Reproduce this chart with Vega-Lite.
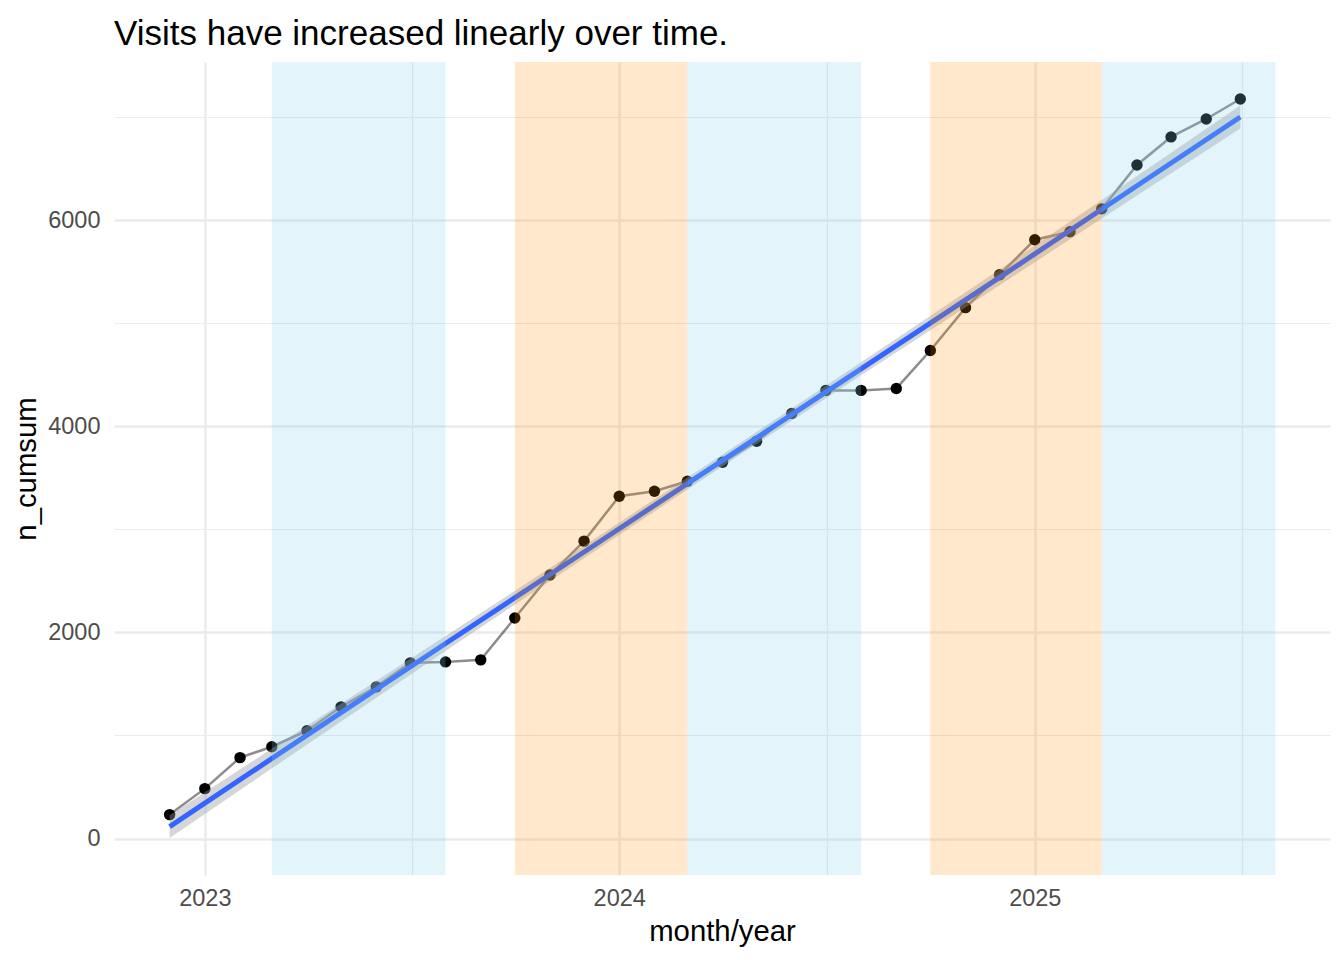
{
  "$schema": "https://vega.github.io/schema/vega-lite/v6.json",
  "width": 1216,
  "height": 813,
  "autosize": {"type": "none"},
  "padding": {"left": 114, "top": 62, "right": 14, "bottom": 85},
  "background": "white",
  "title": {
    "text": "Visits have increased linearly over time.",
    "anchor": "start",
    "frame": "group",
    "font": "Liberation Sans",
    "fontSize": 35,
    "fontWeight": "normal",
    "color": "#000000",
    "baseline": "alphabetic",
    "offset": 15,
    "dy": 33
  },
  "config": {
    "view": {"stroke": null},
    "font": "Liberation Sans",
    "axis": {
      "domain": false,
      "ticks": false,
      "tickSize": 0,
      "labelFont": "Liberation Sans",
      "labelFontSize": 23.5,
      "labelColor": "#4D4D4D",
      "titleFont": "Liberation Sans",
      "titleFontSize": 29.3,
      "titleFontWeight": "normal",
      "titleColor": "#000000",
      "gridColor": "#EBEBEB"
    }
  },
  "datasets": {
    "visits": [
      {"date": "2022-12-01", "n_cumsum": 232},
      {"date": "2023-01-01", "n_cumsum": 484},
      {"date": "2023-02-01", "n_cumsum": 785},
      {"date": "2023-03-01", "n_cumsum": 891},
      {"date": "2023-04-01", "n_cumsum": 1046},
      {"date": "2023-05-01", "n_cumsum": 1278},
      {"date": "2023-06-01", "n_cumsum": 1472},
      {"date": "2023-07-01", "n_cumsum": 1705},
      {"date": "2023-08-01", "n_cumsum": 1714},
      {"date": "2023-09-01", "n_cumsum": 1734},
      {"date": "2023-10-01", "n_cumsum": 2140},
      {"date": "2023-11-01", "n_cumsum": 2557},
      {"date": "2023-12-01", "n_cumsum": 2886},
      {"date": "2024-01-01", "n_cumsum": 3322},
      {"date": "2024-02-01", "n_cumsum": 3370},
      {"date": "2024-03-01", "n_cumsum": 3467},
      {"date": "2024-04-01", "n_cumsum": 3651},
      {"date": "2024-05-01", "n_cumsum": 3855},
      {"date": "2024-06-01", "n_cumsum": 4126},
      {"date": "2024-07-01", "n_cumsum": 4349},
      {"date": "2024-08-01", "n_cumsum": 4349},
      {"date": "2024-09-01", "n_cumsum": 4368},
      {"date": "2024-10-01", "n_cumsum": 4736},
      {"date": "2024-11-01", "n_cumsum": 5152},
      {"date": "2024-12-01", "n_cumsum": 5472},
      {"date": "2025-01-01", "n_cumsum": 5811},
      {"date": "2025-02-01", "n_cumsum": 5888},
      {"date": "2025-03-01", "n_cumsum": 6111},
      {"date": "2025-04-01", "n_cumsum": 6537},
      {"date": "2025-05-01", "n_cumsum": 6809},
      {"date": "2025-06-01", "n_cumsum": 6983},
      {"date": "2025-07-01", "n_cumsum": 7177}
    ],
    "fit": [
      {"date": "2022-12-01", "fit": 116, "lo": 5, "hi": 227},
      {"date": "2023-04-01", "fit": 1004, "lo": 913, "hi": 1095},
      {"date": "2023-08-01", "fit": 1893, "lo": 1820, "hi": 1966},
      {"date": "2023-12-01", "fit": 2781, "lo": 2720, "hi": 2842},
      {"date": "2024-04-01", "fit": 3670, "lo": 3613, "hi": 3727},
      {"date": "2024-08-01", "fit": 4558, "lo": 4495, "hi": 4621},
      {"date": "2024-12-01", "fit": 5446, "lo": 5369, "hi": 5523},
      {"date": "2025-04-01", "fit": 6335, "lo": 6240, "hi": 6430},
      {"date": "2025-07-01", "fit": 7002, "lo": 6891, "hi": 7113}
    ],
    "periods": [
      {"start": "2023-03-01", "end": "2023-08-01", "kind": "blue"},
      {"start": "2023-10-01", "end": "2024-03-01", "kind": "orange"},
      {"start": "2024-03-01", "end": "2024-08-01", "kind": "blue"},
      {"start": "2024-10-01", "end": "2025-03-01", "kind": "orange"},
      {"start": "2025-03-01", "end": "2025-08-01", "kind": "blue"}
    ]
  },
  "encoding": {
    "x": {
      "field": "date",
      "type": "temporal",
      "title": "month/year",
      "scale": {
        "type": "utc",
        "domain": [
          {"year": 2022, "month": 10, "date": 13, "utc": true},
          {"year": 2025, "month": 9, "date": 18, "utc": true}
        ]
      },
      "axis": {
        "values": [
          {"year": 2023, "month": 1, "date": 1, "utc": true},
          {"year": 2023, "month": 7, "date": 2, "hours": 12, "utc": true},
          {"year": 2024, "month": 1, "date": 1, "utc": true},
          {"year": 2024, "month": 7, "date": 2, "hours": 0, "utc": true},
          {"year": 2025, "month": 1, "date": 1, "utc": true},
          {"year": 2025, "month": 7, "date": 2, "hours": 12, "utc": true}
        ],
        "labelExpr": "utcmonth(datum.value) === 0 ? utcFormat(datum.value, '%Y') : ''",
        "gridWidth": {"condition": {"test": "utcmonth(datum.value) === 0", "value": 2.4}, "value": 1.2},
        "labelPadding": 11,
        "titlePadding": 8,
        "labelFlush": false,
        "labelOverlap": false
      }
    }
  },
  "layer": [
    {
      "data": {"name": "visits"},
      "mark": {"type": "line", "color": "#000000", "opacity": 0.45, "strokeWidth": 2.5},
      "encoding": {
        "y": {
          "field": "n_cumsum",
          "type": "quantitative",
          "title": "n_cumsum",
          "scale": {"domain": [-354, 7536], "nice": false, "zero": false},
          "axis": {
            "values": [0, 1000, 2000, 3000, 4000, 5000, 6000, 7000],
            "labelExpr": "datum.value % 2000 === 0 ? datum.value : ''",
            "gridWidth": {"condition": {"test": "datum.value % 2000 === 0", "value": 2.4}, "value": 1.2},
            "labelPadding": 14,
            "titlePadding": 6,
            "labelOverlap": false
          }
        }
      }
    },
    {
      "data": {"name": "visits"},
      "mark": {"type": "point", "filled": true, "color": "#000000", "opacity": 1, "size": 130},
      "encoding": {"y": {"field": "n_cumsum", "type": "quantitative"}}
    },
    {
      "data": {"name": "fit"},
      "mark": {"type": "area", "color": "#999999", "opacity": 0.4},
      "encoding": {
        "y": {"field": "lo", "type": "quantitative"},
        "y2": {"field": "hi"}
      }
    },
    {
      "data": {"name": "fit"},
      "mark": {"type": "line", "color": "#3366FF", "strokeWidth": 5},
      "encoding": {"y": {"field": "fit", "type": "quantitative"}}
    },
    {
      "data": {"name": "periods"},
      "transform": [{"filter": "datum.kind === 'blue'"}],
      "mark": {"type": "rect", "color": "#87CEEB", "opacity": 0.23},
      "encoding": {
        "x": {"field": "start", "type": "temporal"},
        "x2": {"field": "end"}
      }
    },
    {
      "data": {"name": "periods"},
      "transform": [{"filter": "datum.kind === 'orange'"}],
      "mark": {"type": "rect", "color": "#FF8C00", "opacity": 0.2},
      "encoding": {
        "x": {"field": "start", "type": "temporal"},
        "x2": {"field": "end"}
      }
    }
  ]
}
